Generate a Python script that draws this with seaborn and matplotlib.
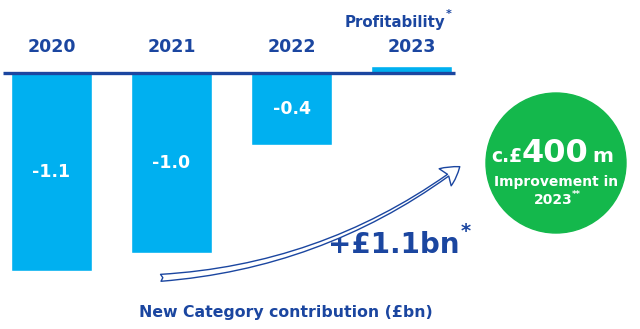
import matplotlib
matplotlib.use("Agg")
import matplotlib.pyplot as plt
import seaborn as sns
import pandas as pd
from matplotlib.patches import Ellipse, FancyArrowPatch

years = ["2020", "2021", "2022", "2023"]
values = [-1.1, -1.0, -0.4, 0.04]
value_labels = ["-1.1", "-1.0", "-0.4", ""]

BAR = "#00b0f0"
NAVY = "#1b46a0"
GREEN = "#14b84c"

sns.set_theme(style="white")
plt.rcParams["font.family"] = ["DejaVu Sans"]

W, H = 640, 329
fig = plt.figure(figsize=(W / 100, H / 100), dpi=100)
ax = fig.add_axes([0, 0, 1, 1])

df = pd.DataFrame({"year": years, "value": values})
sns.barplot(data=df, x="year", y="value", color=BAR, saturation=1,
            width=0.67, ax=ax, order=years)

PX = 120.0   # pixels per category
PY = 180.0   # pixels per unit
x0px, y0px = 51.5, 73.0
ax.set_xlim(-x0px / PX, (W - x0px) / PX)
ax.set_ylim(-(H - y0px) / PY, y0px / PY)
ax.axis("off")

def d(px, py):
    return ((px - x0px) / PX, (y0px - py) / PY)

# zero line
ax.plot([d(3, 0)[0], d(455, 0)[0]], [0, 0], color=NAVY, lw=2.4,
        solid_capstyle="butt", zorder=5)

# year labels
for i, yr in enumerate(years):
    ax.text(i, d(0, 47)[1], yr, ha="center", va="center", color=NAVY,
            fontsize=12.5, fontweight="bold")
ax.text(*d(395, 22), "Profitability", ha="center", va="center",
        color=NAVY, fontsize=10.8, fontweight="bold")
ax.text(*d(446, 14), "*", ha="left", va="center",
        color=NAVY, fontsize=8, fontweight="bold")

# value labels inside bars
for i, (v, lab) in enumerate(zip(values, value_labels)):
    if lab:
        ax.text(i, v / 2, lab, ha="center", va="center", color="white",
                fontsize=12.5, fontweight="bold")

# green circle
cx, cy = d(556, 163)
r = 70
ax.add_patch(Ellipse((cx, cy), 2 * r / PX, 2 * r / PY, color=GREEN, zorder=3))
ax.text(*d(491, 162), "c.£", ha="left", va="baseline", color="white",
        fontsize=13.5, fontweight="bold", zorder=4)
ax.text(*d(522, 162), "400", ha="left", va="baseline", color="white",
        fontsize=23, fontweight="bold", zorder=4)
ax.text(*d(592, 162), "m", ha="left", va="baseline", color="white",
        fontsize=14.5, fontweight="bold", zorder=4)
ax.text(*d(556, 182), "Improvement in", ha="center", va="center", color="white",
        fontsize=10, fontweight="bold", zorder=4)
ax.text(*d(553, 200), "2023", ha="center", va="center", color="white",
        fontsize=10, fontweight="bold", zorder=4)
ax.text(*d(572, 195), "**", ha="left", va="center", color="white",
        fontsize=6, fontweight="bold", zorder=4)

# curved arrow
arrow = FancyArrowPatch(d(158, 278), d(462, 165),
                        arrowstyle="fancy,head_length=13,head_width=15,tail_width=5",
                        connectionstyle="arc3,rad=0.15",
                        facecolor="white", edgecolor=NAVY, lw=1.0,
                        mutation_scale=1, zorder=6)
ax.add_patch(arrow)

ax.text(*d(394, 245), "+£1.1bn", ha="center", va="center", color=NAVY,
        fontsize=20, fontweight="bold")
ax.text(*d(461, 232), "*", ha="left", va="center", color=NAVY,
        fontsize=14, fontweight="bold")

ax.text(*d(286, 313), "New Category contribution (£bn)", ha="center",
        va="center", color=NAVY, fontsize=11.3, fontweight="bold")

fig.savefig("out.png", dpi=100)
